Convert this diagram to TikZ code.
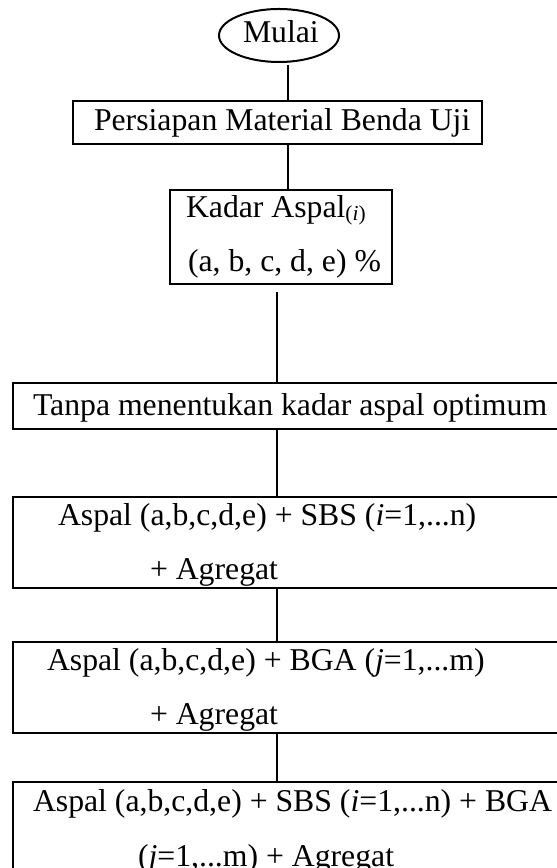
\documentclass[tikz,border=0pt]{standalone}
\usepackage{fontspec}
\setmainfont{Liberation Serif}
\usetikzlibrary{shapes.geometric}
\begin{document}
\begin{tikzpicture}[x=0.375pt,y=-0.375pt,
  every node/.style={inner sep=0pt, outer sep=0pt},
  box/.style={draw, rectangle, line width=0.75pt},
  oval/.style={draw, ellipse, line width=0.75pt},
  txt/.style={anchor=base west, font=\fontsize{11.9}{14}\selectfont},
  link/.style={line width=0.75pt}]
\useasboundingbox (0,0) rectangle (557,868);
\clip (0,0) rectangle (557,868);
% shapes
\node[oval, minimum width=120*0.375pt, minimum height=53*0.375pt] (start) at (279,35.5) {};
\node[box, minimum width=409*0.375pt, minimum height=43*0.375pt] (b2) at (277.5,122.5) {};
\node[box, minimum width=222*0.375pt, minimum height=94*0.375pt] (b3) at (281,237) {};
\node[box, minimum width=597*0.375pt, minimum height=46*0.375pt] (b4) at (311.5,406) {};
\node[box, minimum width=597*0.375pt, minimum height=91*0.375pt] (b5) at (311.5,542.5) {};
\node[box, minimum width=597*0.375pt, minimum height=91*0.375pt] (b6) at (311.5,687.5) {};
\node[box, minimum width=597*0.375pt, minimum height=138*0.375pt] (b7) at (311.5,851) {};
% texts
\node[txt] (t1) at (243,43) {Mulai};
\node[txt] (t2) at (94,131) {Persiapan Material Benda Uji};
\node[txt] (t3a) at (186,218) {Kadar Aspal\raisebox{-1pt}{\fontsize{8}{9}\selectfont(\textit{i})}};
\node[txt] (t3b) at (188,272) {(a, b, c, d, e) \%};
\node[txt] (t4) at (33,416) {Tanpa menentukan kadar aspal optimum};
\node[txt] (t5a) at (58,525) {Aspal (a,b,c,d,e) + SBS (\textit{i}=1,...n)};
\node[txt] (t5b) at (150,579) {+ Agregat};
\node[txt] (t6a) at (47,670) {Aspal (a,b,c,d,e) + BGA (\textit{j}=1,...m)};
\node[txt] (t6b) at (150,724) {+ Agregat};
\node[txt] (t7a) at (33,811) {Aspal (a,b,c,d,e) + SBS (\textit{i}=1,...n) + BGA};
\node[txt] (t7b) at (138,866) {(\textit{j}=1,...m) + Agregat};
% connectors
\coordinate (xa) at (288,0);
\coordinate (xb) at (277,0);
\draw[link, shorten <=3*0.375pt] (start.south -| xa) -- (b2.north -| xa);
\draw[link] (b2.south -| xa) -- (b3.north -| xa);
\draw[link, shorten <=8*0.375pt] (b3.south -| xb) -- (b4.north -| xb);
\draw[link] (b4.south -| xb) -- (b5.north -| xb);
\draw[link] (b5.south -| xb) -- (b6.north -| xb);
\draw[link] (b6.south -| xb) -- (b7.north -| xb);
\end{tikzpicture}
\end{document}
